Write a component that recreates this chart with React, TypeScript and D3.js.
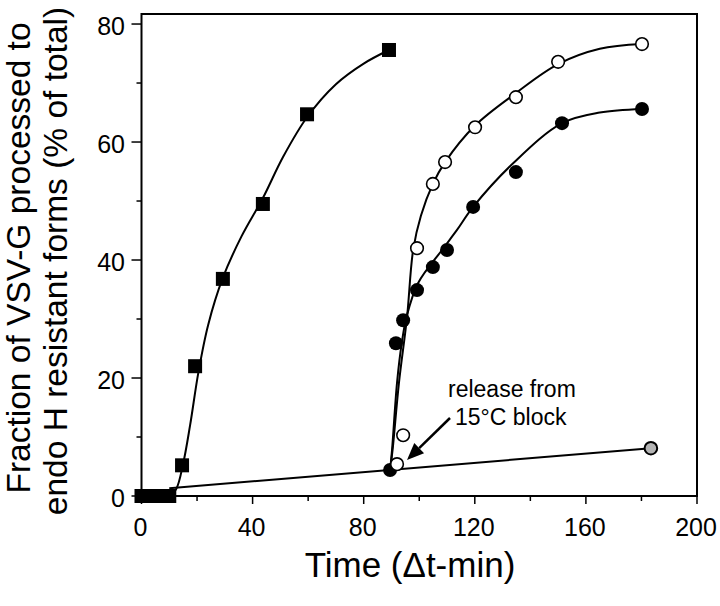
import React from "react";
import * as d3 from "d3";

// ---- data ----
const squareT = [0, 2.5, 5, 7.5, 10, 14.6, 19.3, 29.3, 43.7, 59.6, 89.1];
const squareV = [0, 0, 0, 0, 0, 5.2, 22, 36.8, 49.5, 64.7, 75.6];

const openT = [92, 94.2, 99.2, 104.9, 109.3, 120.1, 134.8, 150, 180.2];
const openV = [5.4, 10.3, 42, 52.9, 56.6, 62.5, 67.6, 73.6, 76.6];

const filledT = [89.5, 91.6, 94.2, 99.2, 104.9, 110, 119.4, 134.8, 151.4, 180.2];
const filledV = [4.4, 25.9, 29.8, 34.9, 38.8, 41.7, 49, 54.9, 63.2, 65.6];

const grayT = [183.4];
const grayV = [8.1];

// fitted curves as drawn in the figure
const squareFitT = [0, 10, 12.5, 15, 17.5, 20.5, 24, 29.3, 36, 43.7, 51, 59.6, 70, 80, 89.1];
const squareFitV = [0, 0, 1.2, 5.5, 12, 21, 29, 37, 44, 50.5, 57.5, 64.2, 69.8, 73.3, 75.6];

const openFitT = [89.5, 90.4, 92.7, 95.6, 97.8, 100.6, 104.9, 109.3, 120.1, 134.8, 150, 165, 180.2];
const openFitV = [4.4, 7.8, 19.2, 30.3, 41.7, 47.5, 52.9, 56.6, 62.8, 68.3, 73.2, 75.8, 76.6];

const filledFitT = [89.5, 90.2, 92, 93.7, 95.5, 99.6, 108.2, 113.6, 119.4, 133.8, 151.4, 165, 180.2];
const filledFitV = [4.4, 7.8, 19.2, 25.9, 30.5, 36.1, 41.7, 45.1, 49, 56.4, 63.2, 65, 65.6];

const blockLineT = [10, 183.4];
const blockLineV = [1.3, 8.1];

const xMajorTicks = [0, 40, 80, 120, 160, 200];
const xMinorTicks = [20, 60, 100, 140, 180];
const yMajorTicks = [0, 20, 40, 60, 80];
const yMinorTicks = [10, 30, 50, 70];

const yLabel1 = "Fraction of VSV-G processed to";
const yLabel2 = "endo H resistant forms (% of total)";
const xLabel = "Time (\u0394t-min)";
const note1 = "release from";
const note2 = "15\u00B0C block";

const FONT = "'Liberation Sans', Arial, Helvetica, sans-serif";

export default function App() {
  const left = 141.5, right = 697, top = 14, bottom = 496;
  const x = d3.scaleLinear().domain([0, 200]).range([left, right]);
  const y = d3.scaleLinear().domain([0, 81.7]).range([bottom, top]);

  const zip = (t: number[], v: number[]) => t.map((d, i) => [d, v[i]] as [number, number]);
  const lineCR = d3.line<[number, number]>().x(d => x(d[0])).y(d => y(d[1])).curve(d3.curveCatmullRom.alpha(0.5));
  const lineStraight = d3.line<[number, number]>().x(d => x(d[0])).y(d => y(d[1]));

  const sq = zip(squareT, squareV);
  const op = zip(openT, openV);
  const fi = zip(filledT, filledV);
  const gr = zip(grayT, grayV);

  // arrow
  const ax1 = 450, ay1 = 418, ax2 = 407, ay2 = 460;
  const ang = Math.atan2(ay2 - ay1, ax2 - ax1);
  const hl = 17, hw = 7;
  const bx = ax2 - hl * Math.cos(ang), by = ay2 - hl * Math.sin(ang);
  const head = [
    [ax2, ay2],
    [bx + hw * Math.sin(ang), by - hw * Math.cos(ang)],
    [bx - hw * Math.sin(ang), by + hw * Math.cos(ang)],
  ].map(p => p.join(",")).join(" ");

  return (
    <svg width={720} height={606} style={{ position: "absolute", left: 0, top: 0, background: "#fff" }} fontFamily={FONT}>
      <rect x={0} y={0} width={720} height={606} fill="#fff" />
      {/* frame */}
      <rect x={left} y={top} width={right - left} height={bottom - top} fill="none" stroke="#000" strokeWidth={2} />
      {/* x ticks */}
      {xMajorTicks.map(t => (
        <g key={"xt" + t}>
          <line x1={x(t)} x2={x(t)} y1={bottom} y2={bottom + 8} stroke="#000" strokeWidth={1.5} />
          <text x={x(t) - 1} y={536} fontSize={25} textAnchor="middle">{t}</text>
        </g>
      ))}
      {xMinorTicks.map(t => (
        <line key={"xm" + t} x1={x(t)} x2={x(t)} y1={bottom} y2={bottom + 5} stroke="#000" strokeWidth={1.5} />
      ))}
      {/* y ticks */}
      {yMajorTicks.map(t => (
        <g key={"yt" + t}>
          <line x1={left} x2={left - 10} y1={y(t)} y2={y(t)} stroke="#000" strokeWidth={1.5} />
          <text x={125} y={y(t) + 11} fontSize={25} textAnchor="end">{t}</text>
        </g>
      ))}
      {yMinorTicks.map(t => (
        <line key={"ym" + t} x1={left} x2={left - 5} y1={y(t)} y2={y(t)} stroke="#000" strokeWidth={1.5} />
      ))}
      {/* axis labels */}
      <text transform="translate(30,258) rotate(-90)" fontSize={33.5} textAnchor="middle">{yLabel1}</text>
      <text transform="translate(67,261) rotate(-90)" fontSize={33.5} textAnchor="middle">{yLabel2}</text>
      <text x={410} y={577} fontSize={35} textAnchor="middle">{xLabel}</text>

      {/* lines */}
      <path d={lineStraight(zip(blockLineT, blockLineV)) || ""} fill="none" stroke="#000" strokeWidth={2} />
      <path d={lineCR(zip(squareFitT, squareFitV)) || ""} fill="none" stroke="#000" strokeWidth={2} />
      <path d={lineCR(zip(openFitT, openFitV)) || ""} fill="none" stroke="#000" strokeWidth={2} />
      <path d={lineCR(zip(filledFitT, filledFitV)) || ""} fill="none" stroke="#000" strokeWidth={2} />

      {/* markers */}
      {sq.map((d, i) => (
        <rect key={"s" + i} x={x(d[0]) - 7} y={y(d[1]) - 7} width={14} height={14} fill="#000" />
      ))}
      {fi.map((d, i) => (
        <circle key={"f" + i} cx={x(d[0])} cy={y(d[1])} r={7} fill="#000" />
      ))}
      {op.map((d, i) => (
        <circle key={"o" + i} cx={x(d[0])} cy={y(d[1])} r={6.3} fill="#fff" stroke="#000" strokeWidth={1.6} />
      ))}
      {gr.map((d, i) => (
        <circle key={"g" + i} cx={x(d[0])} cy={y(d[1])} r={6.3} fill="#b4b4b4" stroke="#000" strokeWidth={2} />
      ))}

      {/* annotation */}
      <text x={448} y={397} fontSize={23}>{note1}</text>
      <text x={455} y={425} fontSize={23}>{note2}</text>
      <line x1={ax1} y1={ay1} x2={bx} y2={by} stroke="#000" strokeWidth={2.5} />
      <polygon points={head} fill="#000" />
    </svg>
  );
}
